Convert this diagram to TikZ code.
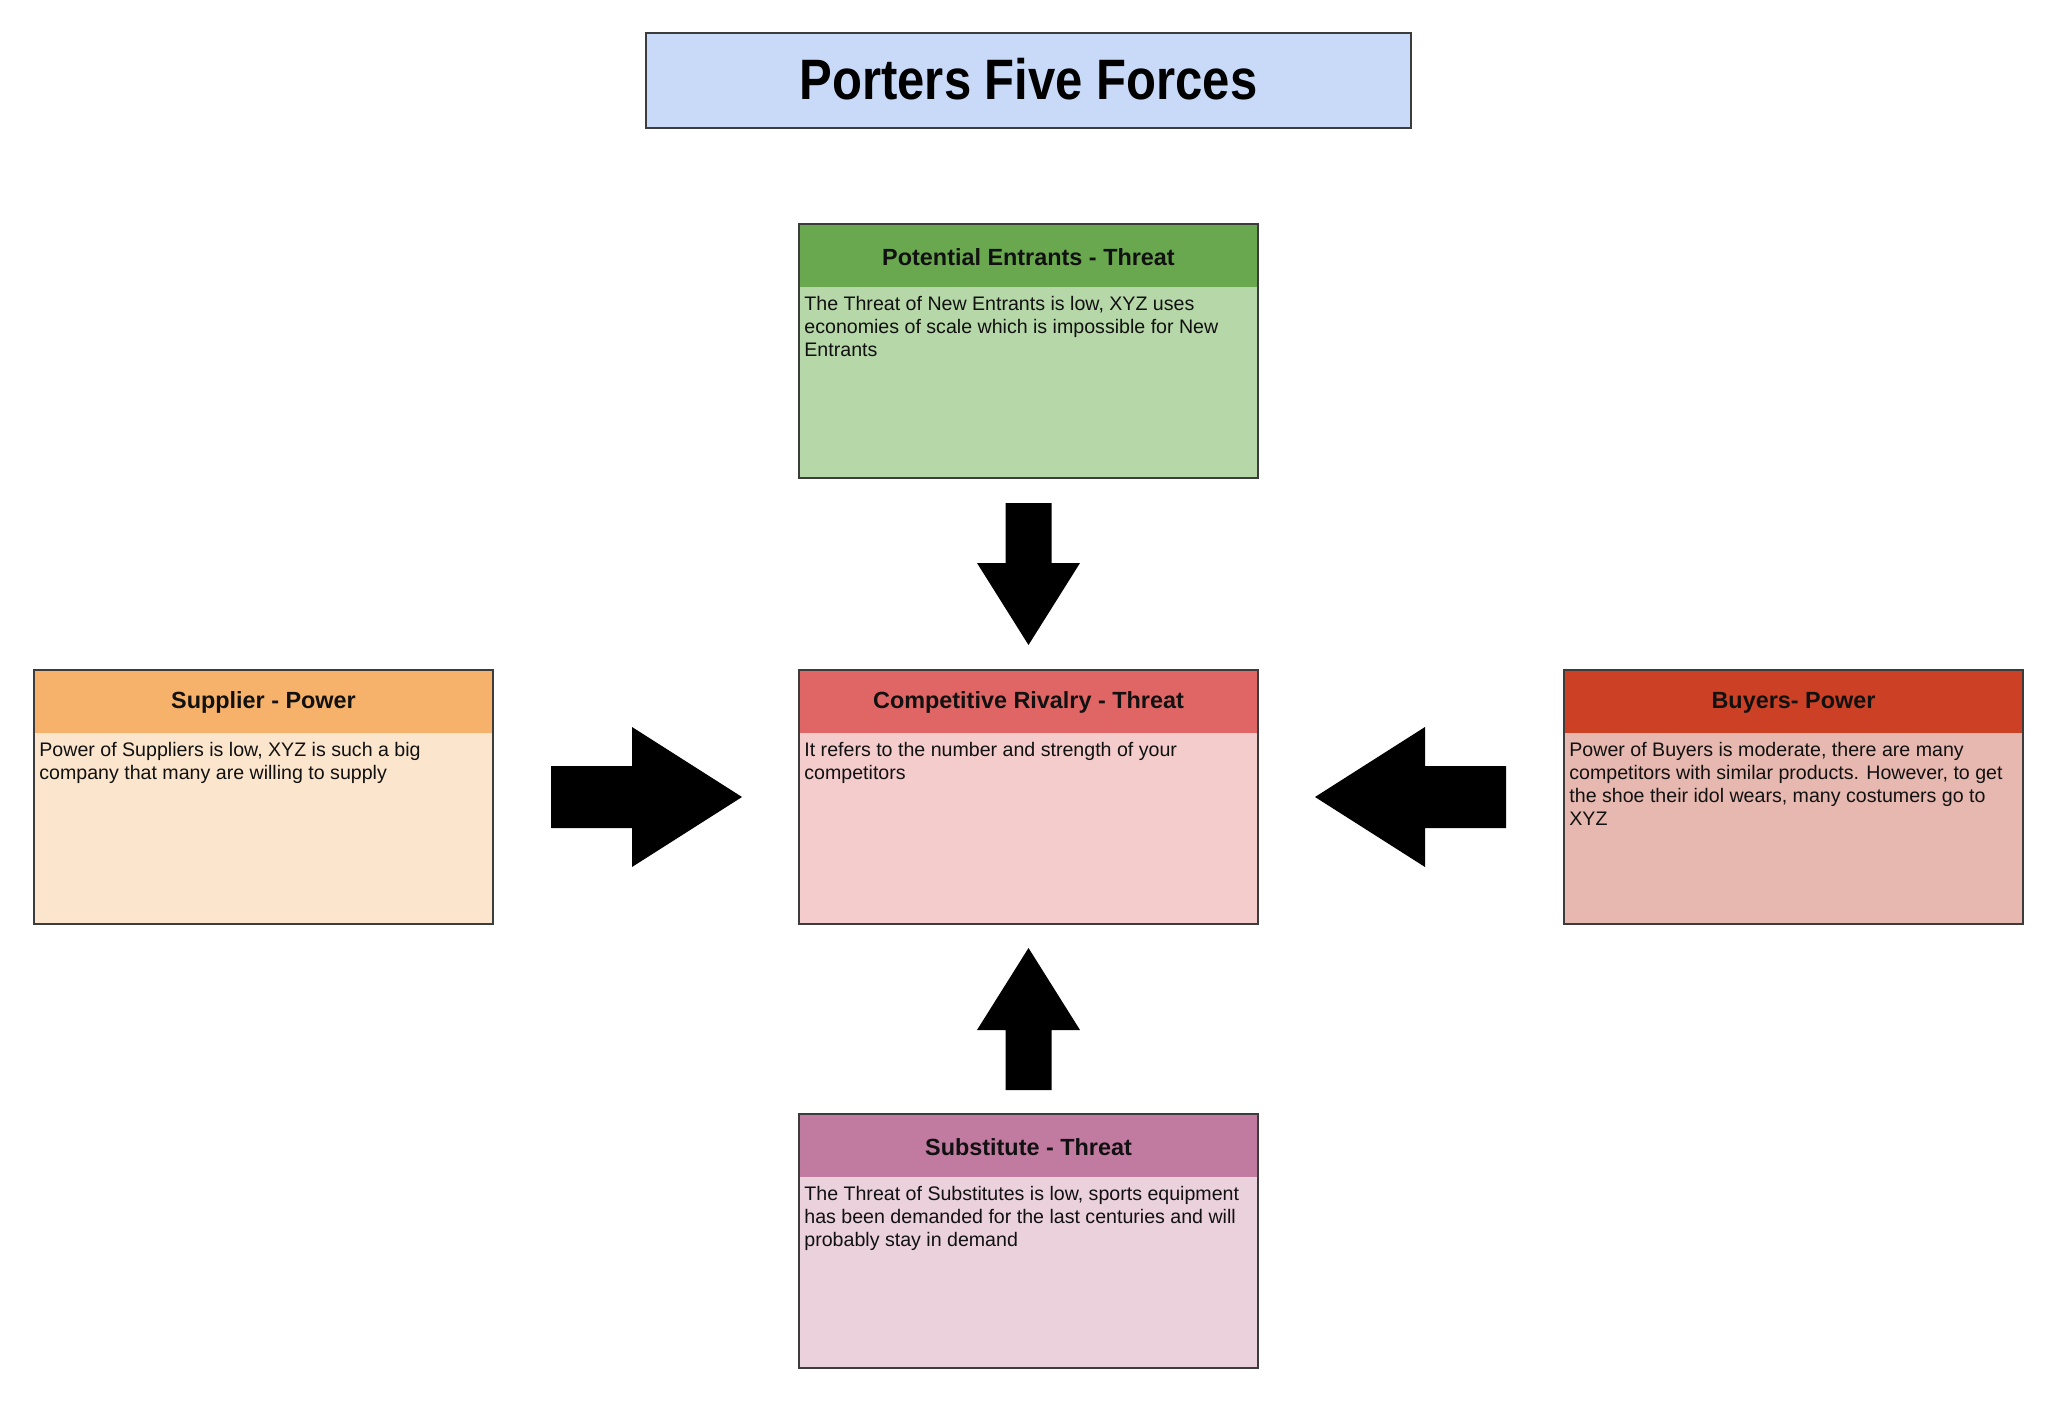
\documentclass[tikz,border=0pt]{standalone}
\usepackage{fontspec}
\setmainfont{Liberation Sans}
\newfontfamily\titlefont[FakeStretch=0.86]{Liberation Sans}
\definecolor{bordergray}{HTML}{3C3C3C}
\definecolor{titlefill}{HTML}{C9DAF8}
\definecolor{greenH}{HTML}{6AA84F}
\definecolor{greenB}{HTML}{B6D7A8}
\definecolor{orangeH}{HTML}{F6B26B}
\definecolor{orangeB}{HTML}{FCE5CD}
\definecolor{redH}{HTML}{E06666}
\definecolor{redB}{HTML}{F4CCCC}
\definecolor{brickH}{HTML}{CC4125}
\definecolor{brickB}{HTML}{E6B8AF}
\definecolor{purpleH}{HTML}{C27BA0}
\definecolor{purpleB}{HTML}{EAD1DC}
\definecolor{txt}{HTML}{111111}
\begin{document}
\begin{tikzpicture}[x=0.5pt,y=-0.5pt,
  forcebox/.style 2 args={draw=bordergray, line width=1pt, fill=#2,
    minimum width=229.5pt, minimum height=127pt, inner sep=0pt, outer sep=0pt,
    path picture={\fill[#1] (path picture bounding box.north west) rectangle ([yshift=-31.5pt]path picture bounding box.north east);}},
  headtxt/.style={font=\bfseries\fontsize{11.7}{14}\selectfont, text=txt, inner sep=0pt},
  bodytxt/.style={font=\fontsize{9.8}{11.5}\selectfont, text=txt, align=left, inner sep=0pt, anchor=north west},
  blockarrow/.style={fill=black}
]
\useasboundingbox (0,0) rectangle (2048,1406);

% title
\node[draw=bordergray, line width=1pt, fill=titlefill, minimum width=382.5pt, minimum height=47.5pt, inner sep=0pt]
  (title) at (1028.5,80.5) {};
\node[font=\titlefont\bfseries\fontsize{28.5}{34}\selectfont, text=black, inner sep=0pt] (titletxt) at (1028.5,79) {Porters Five Forces};

% boxes
\node[forcebox={greenH}{greenB}] (ent) at (1028.5,351) {};
\node[forcebox={orangeH}{orangeB}] (sup) at (263.5,796.5) {};
\node[forcebox={redH}{redB}] (riv) at (1028.5,796.5) {};
\node[forcebox={brickH}{brickB}] (buy) at (1793.5,796.5) {};
\node[forcebox={purpleH}{purpleB}] (sub) at (1028.5,1241) {};

% headers
\node[headtxt] (entH) at ([yshift=-16.5pt]ent.north) {Potential Entrants - Threat};
\node[headtxt] (supH) at ([yshift=-16.5pt]sup.north) {Supplier - Power};
\node[headtxt] (rivH) at ([yshift=-16.5pt]riv.north) {Competitive Rivalry - Threat};
\node[headtxt] (buyH) at ([yshift=-16.5pt]buy.north) {Buyers- Power};
\node[headtxt] (subH) at ([yshift=-16.5pt]sub.north) {Substitute - Threat};

% body texts
\node[bodytxt] (entT) at ([xshift=2.5pt,yshift=-36pt]ent.north west)
  {The Threat of New Entrants is low, XYZ uses\\economies of scale which is impossible for New\\Entrants};
\node[bodytxt] (supT) at ([xshift=2.5pt,yshift=-36pt]sup.north west)
  {Power of Suppliers is low, XYZ is such a big\\company that many are willing to supply};
\node[bodytxt] (rivT) at ([xshift=2.5pt,yshift=-36pt]riv.north west)
  {It refers to the number and strength of your\\competitors};
\node[bodytxt] (buyT) at ([xshift=2.5pt,yshift=-36pt]buy.north west)
  {Power of Buyers is moderate, there are many\\competitors with similar products. However, to get\\the shoe their idol wears, many costumers go to\\XYZ};
\node[bodytxt] (subT) at ([xshift=2.5pt,yshift=-36pt]sub.north west)
  {The Threat of Substitutes is low, sports equipment\\has been demanded for the last centuries and will\\probably stay in demand};

% block arrows
\fill[blockarrow] (1005.5,503) -- (1051.5,503) -- (1051.5,563) -- (1080,563) -- (1028.5,645) -- (977,563) -- (1005.5,563) -- cycle;
\fill[blockarrow] (1005.5,1090) -- (1051.5,1090) -- (1051.5,1030) -- (1080,1030) -- (1028.5,948) -- (977,1030) -- (1005.5,1030) -- cycle;
\fill[blockarrow] (551,766) -- (632,766) -- (632,727) -- (742,797) -- (632,867) -- (632,828) -- (551,828) -- cycle;
\fill[blockarrow] (1506,766) -- (1425,766) -- (1425,727) -- (1315,797) -- (1425,867) -- (1425,828) -- (1506,828) -- cycle;
\end{tikzpicture}
\end{document}
